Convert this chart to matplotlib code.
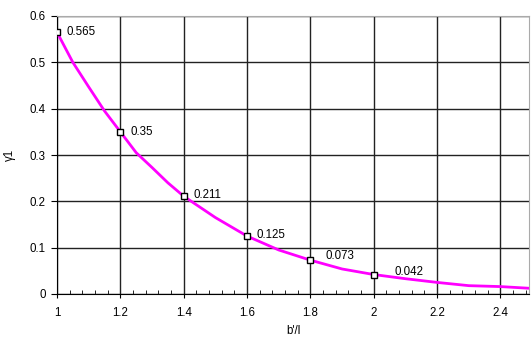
import matplotlib.pyplot as plt
from matplotlib.ticker import MultipleLocator

# curve
curve_x = [1.0, 1.05, 1.1, 1.15, 1.2, 1.25, 1.3, 1.35, 1.4, 1.5, 1.6, 1.7,
           1.8, 1.9, 2.0, 2.1, 2.2, 2.3, 2.4, 2.5]
curve_y = [0.565, 0.50, 0.447, 0.395, 0.35, 0.305, 0.273, 0.24, 0.211, 0.165,
           0.125, 0.095, 0.073, 0.054, 0.042, 0.033, 0.025, 0.018, 0.016, 0.012]

# labelled points
point_x = [1.0, 1.2, 1.4, 1.6, 1.8, 2.0]
point_y = [0.565, 0.35, 0.211, 0.125, 0.073, 0.042]
point_labels = ["0.565", "0.35", "0.211", "0.125", "0.073", "0.042"]

plt.rcParams["font.family"] = ["Liberation Sans", "DejaVu Sans"]
fs = 8.3

fig = plt.figure(figsize=(5.31, 3.38), dpi=100)
ax = fig.add_axes([57 / 531, 44 / 338, 472 / 531, 278 / 338])

ax.plot(curve_x, curve_y, color="#ff00ff", lw=2, zorder=3)
ax.plot(point_x, point_y, ls="none", marker="s", ms=4.5, mfc="white",
        mec="black", mew=1, zorder=4)

# label offsets in points (dx, dy)
offsets = [(7, 0), (7, 0), (7, 1), (7, 1), (11, 3), (15, 2)]
for x, y, lab, (dx, dy) in zip(point_x, point_y, point_labels, offsets):
    ax.annotate(lab, (x, y), xytext=(dx, dy), textcoords="offset points",
                ha="left", va="center", fontsize=fs)

ax.set_xlim(1, 2.49)
ax.set_ylim(0, 0.6)
ax.xaxis.set_minor_locator(MultipleLocator(0.04))
xt = [1, 1.2, 1.4, 1.6, 1.8, 2, 2.2, 2.4]
ax.set_xticks(xt)
ax.set_xticklabels([f"{v:g}" for v in xt])
yt = [0, 0.1, 0.2, 0.3, 0.4, 0.5, 0.6]
ax.set_yticks(yt)
ax.set_yticklabels([f"{v:g}" for v in yt])

ax.grid(True, which="major", color="#222222", lw=1)
ax.tick_params(axis="x", which="major", direction="out", length=3,
               labelsize=fs, pad=6)
ax.tick_params(axis="x", which="minor", direction="in", length=3)
ax.tick_params(axis="y", which="major", direction="out", length=4,
               labelsize=fs, pad=4)

for side in ("top", "right"):
    ax.spines[side].set_color("#aaaaaa")
for side in ("left", "bottom"):
    ax.spines[side].set_color("black")

ax.set_xlabel("b'/l", fontsize=fs, labelpad=5)
ax.set_ylabel("γ1", fontsize=fs, labelpad=10)

fig.savefig("out.png", dpi=100)
